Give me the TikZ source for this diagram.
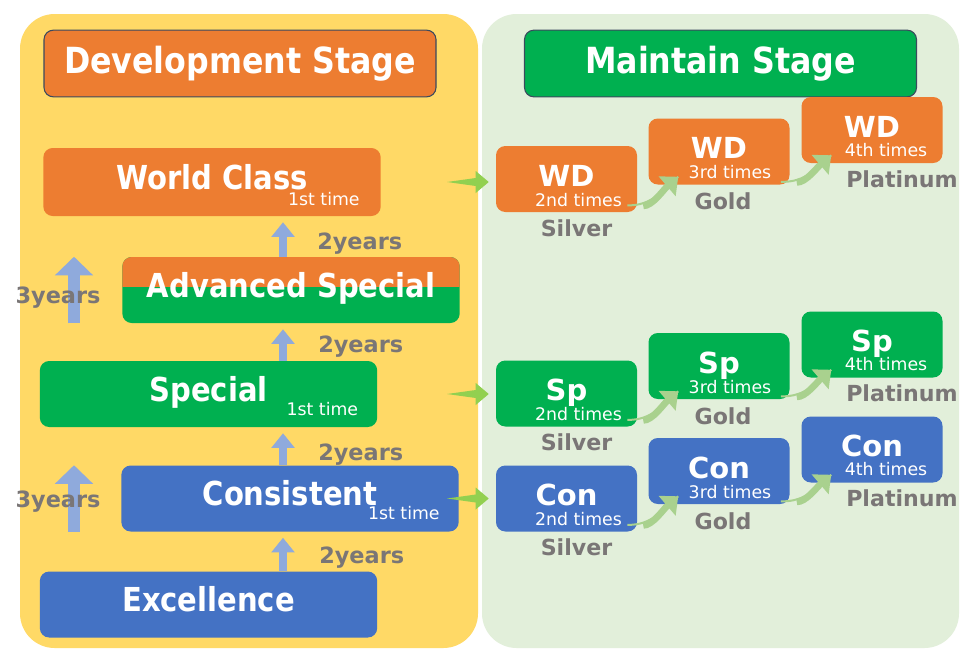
\documentclass[tikz,border=0pt]{standalone}
\usepackage{fontspec}
\setmainfont{DejaVu Sans}
\newfontfamily\tallfont[FakeStretch=0.88]{DejaVu Sans}
\usetikzlibrary{arrows.meta, positioning, calc}

\definecolor{wcorange}{HTML}{ED7D31}
\definecolor{spgreen}{HTML}{00B050}
\definecolor{conblue}{HTML}{4472C4}
\definecolor{devyellow}{HTML}{FFD966}
\definecolor{keepgreen}{HTML}{E2EFDA}
\definecolor{yeargray}{HTML}{7A7676}
\definecolor{steparrow}{HTML}{8FAADC}
\definecolor{movegreen}{HTML}{92D050}
\definecolor{risegreen}{HTML}{A9D18E}
\definecolor{headline}{HTML}{3B4A5E}

% tapered arrow from one level to the maintain stage
\newcommand{\movearrow}[2]{%
    \fill[movegreen] (#1) -- ($(#2)+(-13,-4)$) -- ($(#2)+(-13,-11)$) -- (#2)
        -- ($(#2)+(-13,11)$) -- ($(#2)+(-13,4)$) -- cycle;}
% curved arrow between two maintain boxes
\newcommand{\risearrow}[2]{%
    \draw[rise, line width=1.5pt, -] (#1) .. controls +(25,1) and +(-14,12) .. (#2);
    \draw[rise, shorten <=12pt] (#1) .. controls +(25,1) and +(-14,12) .. (#2);}

\begin{document}
\begin{tikzpicture}[
    x=0.75pt, y=-0.75pt,
    panel/.style={
        rounded corners=26pt,
    },
    stage/.style={
        draw=headline,
        line width=0.8pt,
        rounded corners=7pt,
        minimum width=294pt,
        minimum height=50pt,
        inner sep=0pt,
        text=white,
        font=\tallfont\bfseries\fontsize{27}{27}\selectfont,
    },
    level/.style={
        rounded corners=7pt,
        minimum width=253pt,
        minimum height=49.5pt,
        inner sep=0pt,
        text height=18pt,
        text depth=6.8pt,
        text=white,
        font=\tallfont\bfseries\fontsize{24.75}{25}\selectfont,
    },
    medal/.style={
        rounded corners=7pt,
        minimum width=105.75pt,
        minimum height=49.5pt,
        inner sep=0pt,
    },
    short/.style={
        text=white,
        anchor=base,
        inner sep=0pt,
        font=\bfseries\fontsize{21.75}{22}\selectfont,
    },
    times/.style={
        text=white,
        anchor=base,
        inner sep=0pt,
        font=\fontsize{13}{13}\selectfont,
    },
    first/.style={
        times,
        anchor=base east,
    },
    grade/.style={
        text=yeargray,
        anchor=base,
        inner sep=0pt,
        font=\bfseries\fontsize{16.6}{17}\selectfont,
    },
    years/.style={
        grade,
        anchor=base west,
        font=\bfseries\fontsize{16.8}{17}\selectfont,
    },
    climb/.style={
        draw=steparrow,
        line width=6.5pt,
        shorten >=4.5pt,
        -{Triangle[width=17pt, length=11pt]},
    },
    longclimb/.style={
        draw=steparrow,
        line width=9pt,
        -{Triangle[width=28pt, length=14pt]},
    },
    rise/.style={
        draw=risegreen,
        line width=5pt,
        -{Triangle[width=19pt, length=11pt]},
    }
]
    % Background and panels
    \useasboundingbox (0,0) rectangle (980,665);
    \fill[white] (0,0) rectangle (980,665);
    \fill[devyellow, panel] (20,14) rectangle (478,648);
    \fill[keepgreen, panel] (482,14) rectangle (959,648);

    % Stage headers
    \node[stage, fill=wcorange] (devhead) at (240,63.5) {Development Stage};
    \node[stage, fill=spgreen] (keephead) at (720.5,63.5) {Maintain Stage};

    % Development levels
    \node[level, fill=wcorange, minimum height=51pt] (wc) at (212,182) {World Class};
    \node[level, fill=spgreen, path picture={
        \fill[wcorange, sharp corners] (path picture bounding box.north west)
            rectangle ([yshift=-22.5pt]path picture bounding box.north east);
    }] (adv) at (291,290) {Advanced Special};
    \node[level, fill=spgreen] (spec) at (208.5,394) {Special};
    \node[level, fill=conblue] (cons) at (290,498.5) {Consistent};
    \node[level, fill=conblue] (exc) at (208.5,604.5) {Excellence};

    \node[first] (wcfirst) at ($(wc.south east)+(-21,-11)$) {1st time};
    \node[first] (specfirst) at ($(spec.south east)+(-19,-12)$) {1st time};
    \node[first] (consfirst) at ($(cons.south east)+(-19,-12)$) {1st time};

    % Steps between levels
    \coordinate (spine) at (283,0);
    \coordinate (longspine) at (74,0);
    \draw[climb] (adv.north -| spine) -- (wc.south -| spine);
    \draw[climb] (spec.north -| spine) -- (adv.south -| spine);
    \draw[climb] (cons.north -| spine) -- (spec.south -| spine);
    \draw[climb] (exc.north -| spine) -- (cons.south -| spine);

    \node[years] (advyears) at (317,249) {2years};
    \node[years] (specyears) at (318,352) {2years};
    \node[years] (consyears) at (318,460) {2years};
    \node[years] (excyears) at (319,563) {2years};

    \draw[longclimb] (adv.south -| longspine) -- (adv.north -| longspine);
    \draw[longclimb] (cons.south -| longspine) -- (cons.north -| longspine);
    \node[grade, font=\bfseries\fontsize{16.8}{17}\selectfont] (advlong) at ($(adv.center -| longspine)+(-16,13)$) {3years};
    \node[grade, font=\bfseries\fontsize{16.8}{17}\selectfont] (conslong) at ($(cons.center -| longspine)+(-16,9)$) {3years};

    % Maintain levels
    \coordinate (tail) at (447,0);
    \foreach \row/\short/\col/\y/\src in {wd/WD/wcorange/0/wc, sp/Sp/spgreen/214.5/spec, con/Con/conblue/319.5/cons} {
        \node[medal, fill=\col] (\row2) at (566.5,179+\y) {};
        \node[medal, fill=\col] (\row3) at (719,151.5+\y) {};
        \node[medal, fill=\col] (\row4) at (872,130+\y) {};

        \node[short] (\row2name) at ($(\row2.center)+(0,7)$) {\short};
        \node[short] (\row3name) at ($(\row3.center)+(0,7)$) {\short};
        \node[short] (\row4name) at ($(\row4.center)+(0,7)$) {\short};

        \node[times] (\row2times) at ($(\row2.center)+(12,27)$) {2nd times};
        \node[times] (\row3times) at ($(\row3.center)+(11,27)$) {3rd times};
        \node[times] (\row4times) at ($(\row4.center)+(14,26)$) {4th times};

        \node[grade] (\row2grade) at ($(\row2.south)+(10,24)$) {Silver};
        \node[grade] (\row3grade) at ($(\row3.south)+(4,25)$) {Gold};
        \node[grade] (\row4grade) at ($(\row4.south)+(30,24)$) {Platinum};

        \movearrow{\src -| tail}{$(\row2.west |- \src)+(-7,0)$}
        \risearrow{$(\row2.south east)+(-10,-7)$}{$(\row3.south west)+(30,-8)$}
        \risearrow{$(\row3.south east)+(-9,-3)$}{$(\row4.south west)+(30,-8)$}
    }

\end{tikzpicture}
\end{document}
